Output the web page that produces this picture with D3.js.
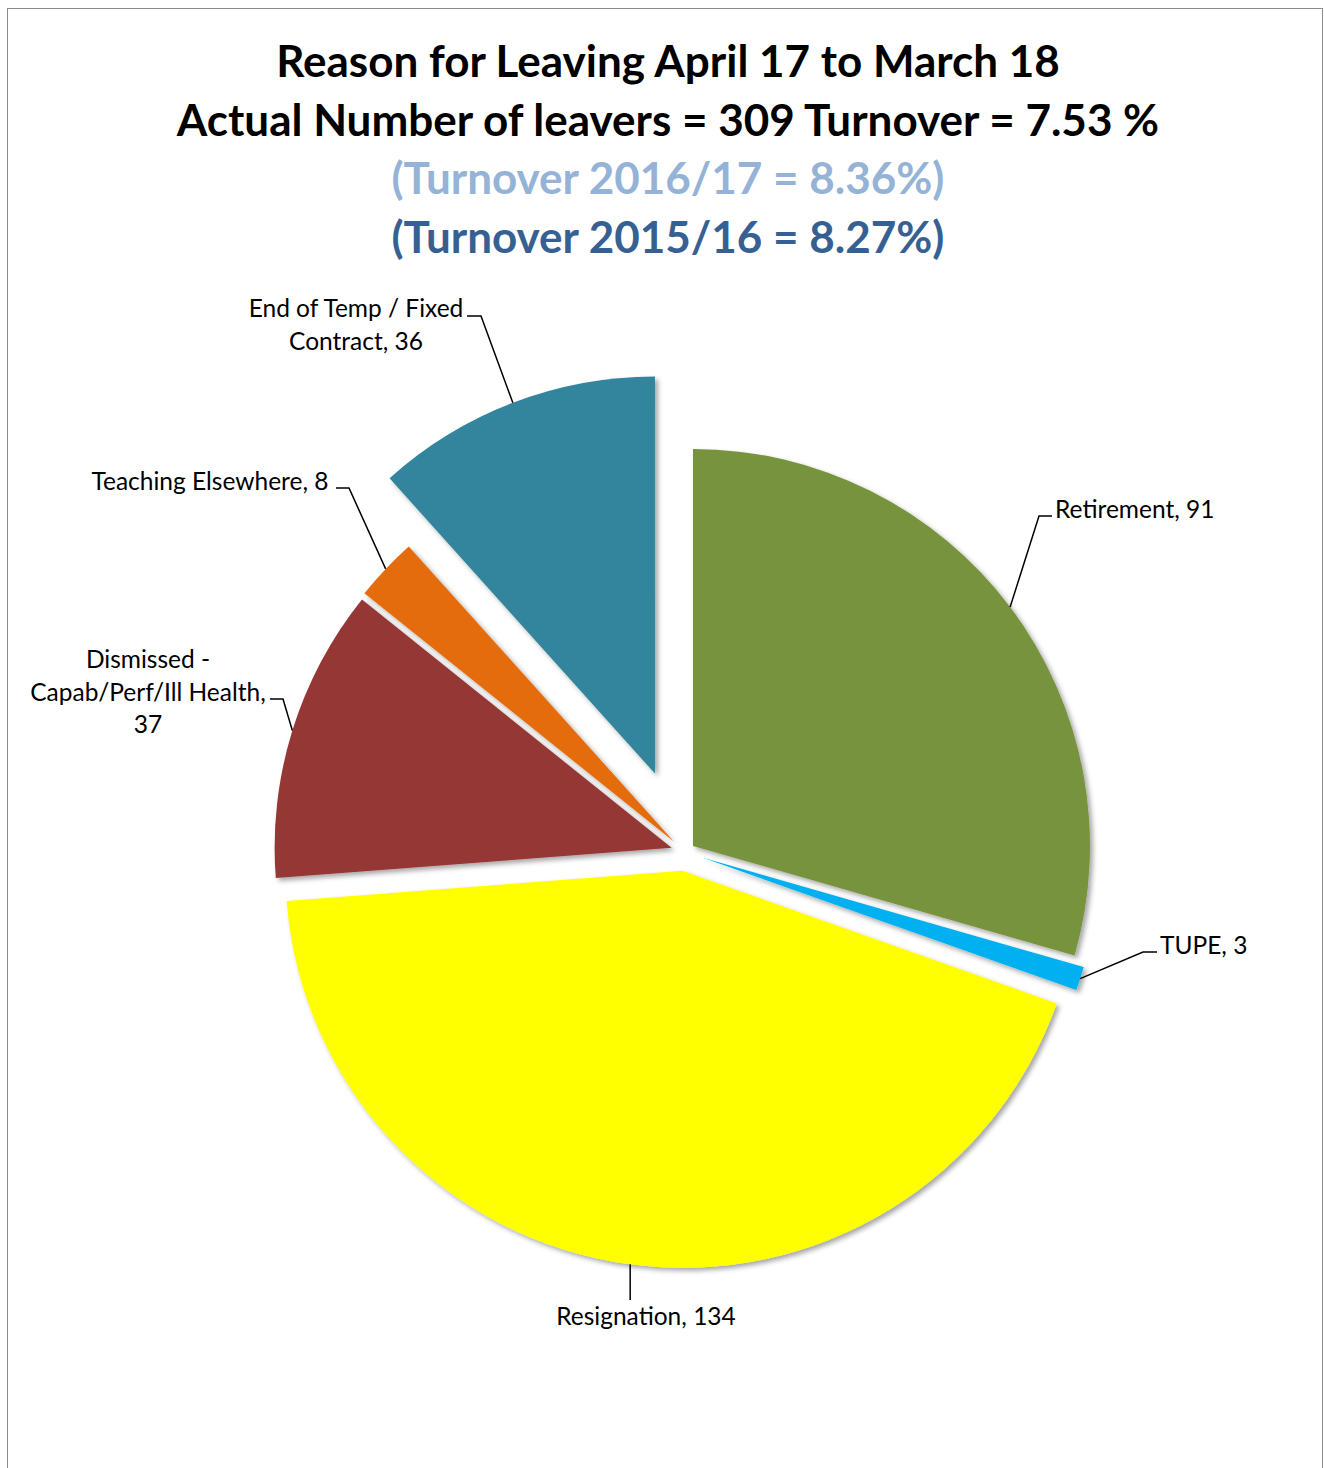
<!DOCTYPE html>
<html>
<head>
<meta charset="utf-8">
<script src="https://cdn.jsdelivr.net/npm/d3@7"></script>
<style>
  body { margin: 0; background: #fff; }
  svg { display: block; }
</style>
</head>
<body>
<div id="chart"></div>
<script>
// Data
var reasons = ["Retirement", "TUPE", "Resignation", "Dismissed - Capab/Perf/Ill Health", "Teaching Elsewhere", "End of Temp / Fixed Contract"];
var leavers = [91, 3, 134, 37, 8, 36];
var titleLines = [
  "Reason for Leaving April 17 to March 18",
  "Actual Number of leavers = 309 Turnover = 7.53 %",
  "(Turnover 2016/17 = 8.36%)",
  "(Turnover 2015/16 = 8.27%)"
];

// Styles / layout
var sliceColors = ["#77933C", "#00B0F0", "#FFFF00", "#953735", "#E46C0A", "#31859C"];
var titleColors = ["#000", "#000", "#95B3D7", "#376092"];
var explode = [10, 18, 19, 14, 15, 84];

// label layout: text lines, anchor, leader elbow + end of horizontal tick
var labelLayout = [
  { lines: ["Retirement, 91"], x: 1055, y: 518, anchor: "start", elbow: [1039, 516], end: [1052, 516] },
  { lines: ["TUPE, 3"], x: 1160, y: 954, anchor: "start", elbow: [1143, 952], end: [1157, 952] },
  { lines: ["Resignation, 134"], x: 646, y: 1325, anchor: "middle", elbow: null, drop: 1300 },
  { lines: ["Dismissed -", "Capab/Perf/Ill Health,", "37"], x: 148, y: 668, anchor: "middle", elbow: [283, 699], end: [270, 699] },
  { lines: ["Teaching Elsewhere, 8"], x: 210, y: 490, anchor: "middle", elbow: [349, 488], end: [336, 488] },
  { lines: ["End of Temp / Fixed", "Contract, 36"], x: 356, y: 317, anchor: "middle", elbow: [481, 316], end: [467, 316] }
];

var svgWidth = 1324;
var svgHeight = 1468;
var cx = 685, cy = 852, radius = 397;

var svg = d3.select("#chart")
  .append("svg")
  .attr("width", svgWidth)
  .attr("height", svgHeight);

// soft drop shadow like Excel
var defs = svg.append("defs");
var shadow = defs.append("filter")
  .attr("id", "shadow")
  .attr("x", "-10%").attr("y", "-10%")
  .attr("width", "130%").attr("height", "130%");
shadow.append("feDropShadow")
  .attr("dx", 3).attr("dy", 3)
  .attr("stdDeviation", 2.5)
  .attr("flood-color", "#000")
  .attr("flood-opacity", 0.35);

// frame
svg.append("rect")
  .attr("x", 7.5).attr("y", 8.5)
  .attr("width", 1315).attr("height", 1480)
  .attr("fill", "none")
  .attr("stroke", "#8c8c8c")
  .attr("stroke-width", 1);

// Title
svg.append("g").selectAll("text")
  .data(titleLines)
  .enter()
  .append("text")
  .attr("x", 668)
  .attr("y", (d, i) => 77 + i * 58.5)
  .attr("text-anchor", "middle")
  .style("font-family", "Lato, 'Open Sans', sans-serif")
  .style("font-weight", "bold")
  .style("font-size", "44px")
  .attr("fill", (d, i) => titleColors[i])
  .text(d => d);

// Pie
var pie = d3.pie().sort(null).value(d => d);
var arcs = pie(leavers);
var arc = d3.arc().innerRadius(0).outerRadius(radius);

function offsetFor(d, i) {
  var mid = (d.startAngle + d.endAngle) / 2;
  return [explode[i] * Math.sin(mid), -explode[i] * Math.cos(mid)];
}

var pieGroup = svg.append("g")
  .attr("transform", `translate(${cx}, ${cy})`);

pieGroup.selectAll("path")
  .data(arcs)
  .enter()
  .append("path")
  .attr("transform", (d, i) => {
    var o = offsetFor(d, i);
    return `translate(${o[0]}, ${o[1]})`;
  })
  .attr("d", arc)
  .attr("fill", (d, i) => sliceColors[i])
  .attr("filter", "url(#shadow)");

// Leader lines
var labelGroup = svg.append("g");
arcs.forEach(function(d, i) {
  var o = offsetFor(d, i);
  var mid = (d.startAngle + d.endAngle) / 2;
  var px = cx + o[0] + radius * Math.sin(mid);
  var py = cy + o[1] - radius * Math.cos(mid);
  var L = labelLayout[i];
  var pts;
  if (L.elbow) {
    pts = [[px, py], L.elbow, L.end];
  } else {
    pts = [[px, py], [px, L.drop]];
  }
  labelGroup.append("path")
    .attr("d", d3.line()(pts))
    .attr("fill", "none")
    .attr("stroke", "#000")
    .attr("stroke-width", 1.5);
});

// Labels
labelGroup.selectAll("text.lbl")
  .data(labelLayout)
  .enter()
  .append("text")
  .attr("class", "lbl")
  .attr("text-anchor", d => d.anchor)
  .style("font-family", "Lato, 'Open Sans', sans-serif")
  .style("font-size", "24.5px")
  .attr("fill", "#000")
  .each(function(d) {
    var t = d3.select(this);
    d.lines.forEach(function(line, k) {
      t.append("tspan")
        .attr("x", d.x)
        .attr("y", d.y + k * 32.5)
        .text(line);
    });
  });
</script>
</body>
</html>
